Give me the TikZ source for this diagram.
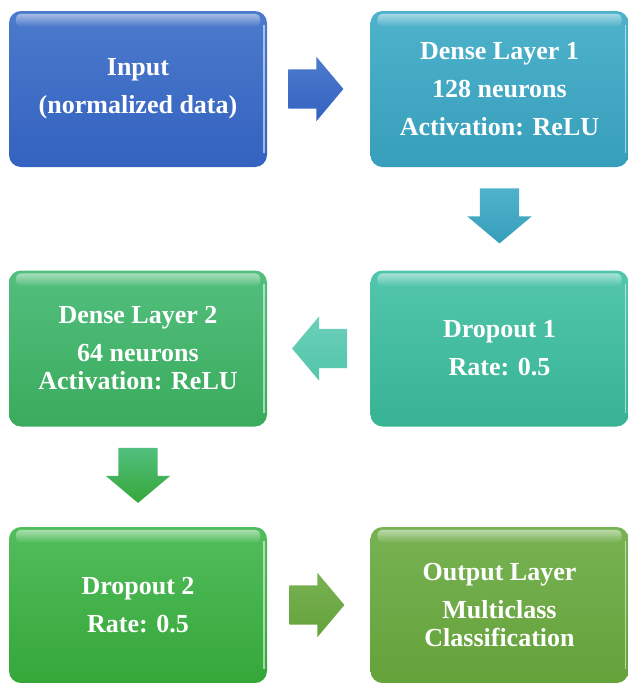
\documentclass[tikz,border=0pt]{standalone}
\usepackage{fontspec}
\setmainfont{Liberation Serif}
\usetikzlibrary{shapes.arrows,fadings}

\definecolor{inTop}{HTML}{4C7ACC}\definecolor{inBot}{HTML}{3362C0}
\definecolor{daTop}{HTML}{4EB2CB}\definecolor{daBot}{HTML}{379EBB}
\definecolor{doaTop}{HTML}{52C6AC}\definecolor{doaBot}{HTML}{37B394}
\definecolor{dbTop}{HTML}{52BF7E}\definecolor{dbBot}{HTML}{3AAB5C}
\definecolor{dobTop}{HTML}{52BD5C}\definecolor{dobBot}{HTML}{35A739}
\definecolor{outTop}{HTML}{78B253}\definecolor{outBot}{HTML}{64A23A}

\tikzset{
	layer/.style={rounded corners=12pt, minimum width=258pt, minimum height=156pt, inner sep=0pt,
		align=center, text=white, font=\bfseries\fontsize{26}{28}\selectfont},
	flow/.style={single arrow, single arrow head extend=12.5pt, single arrow tip angle=100,
		minimum height=55pt, minimum width=64pt, inner xsep=0pt, inner ysep=19.5pt, anchor=tail},
	vflow/.style={flow, shape border rotate=270, inner xsep=19.5pt, inner ysep=0pt},
}

\begin{document}
\begin{tikzpicture}[x=1pt, y=-1pt]
			\useasboundingbox (0,0) rectangle (628,683);
			% the six stages of the network
			\node (input) [layer, top color=inTop, bottom color=inBot] at (138,89) {Input\\[10pt](normalized data)};
			\node (dense1) [layer, top color=daTop, bottom color=daBot] at (499.5,89) {Dense Layer 1\\[10pt]128 neurons\\[10pt]Activation: ReLU};
			\node (drop1) [layer, top color=doaTop, bottom color=doaBot] at (499.5,348.5) {Dropout 1\\[10pt]Rate: 0.5};
			\node (dense2) [layer, top color=dbTop, bottom color=dbBot] at (138,348.5) {Dense Layer 2\\[10pt]64 neurons\\Activation: ReLU};
			\node (drop2) [layer, top color=dobTop, bottom color=dobBot] at (138,605) {Dropout 2\\[10pt]Rate: 0.5};
			\node (output) [layer, top color=outTop, bottom color=outBot] at (499.5,605) {Output Layer\\[10pt]Multiclass\\Classification};
			% glossy rim on every box
			\foreach \b in {input,dense1,drop1,dense2,drop2,output}{
				\fill[white, fill opacity=.5, path fading=south, rounded corners=5pt] ([xshift=7pt,yshift=-3pt]\b.north west) rectangle ([xshift=-7pt,yshift=-16pt]\b.north east);
				\draw[white, opacity=.55, line width=1.5pt] ([xshift=-3pt,yshift=-14pt]\b.north east) -- ([xshift=-3pt,yshift=14pt]\b.south east);
			}
			% block arrows between the stages
			\node (a1) [flow, top color=inTop, bottom color=inBot] at ([xshift=21pt]input.east) {};
			\node (a2) [vflow, top color=daTop, bottom color=daBot] at ([yshift=-21pt]dense1.south) {};
			\node (a3) [flow, shape border rotate=180, top color=doaTop!85!white, bottom color=doaTop] at ([xshift=-23pt]drop1.west) {};
			\node (a4) [vflow, top color=dbTop, bottom color=dobBot] at ([yshift=-21pt]dense2.south) {};
			\node (a5) [flow, top color=outTop, bottom color=outBot] at ([xshift=22pt]drop2.east) {};
		\end{tikzpicture}
\end{document}
